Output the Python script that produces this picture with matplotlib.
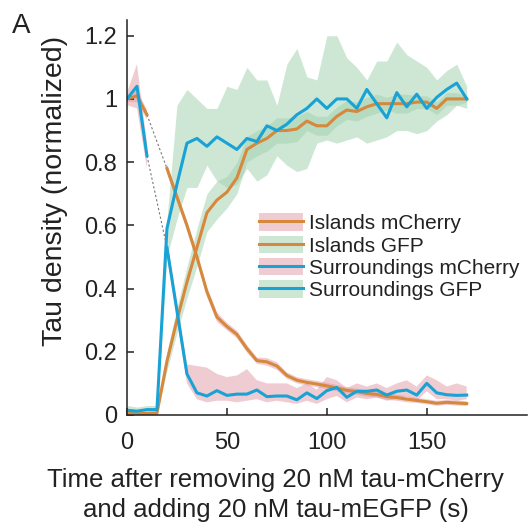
import numpy as np
import matplotlib
matplotlib.use("Agg")
from matplotlib import pyplot as plt
from matplotlib.patches import Patch
from matplotlib.lines import Line2D
from matplotlib.ticker import FormatStrFormatter

nan = np.nan

# time points (s)
time = [0, 5, 10, 15, 20, 25, 30, 35, 40, 45, 50, 55, 60, 65, 70, 75, 80, 85,
        90, 95, 100, 105, 110, 115, 120, 125, 130, 135, 140, 145, 150, 155,
        160, 165, 170]

# islands, mCherry channel (gap at 15 s while solutions are exchanged)
islands_mcherry = [1.00, 1.01, 0.95, nan, 0.78, 0.69, 0.60, 0.50, 0.39, 0.31,
                   0.28, 0.255, 0.21, 0.172, 0.168, 0.155, 0.125, 0.11, 0.103,
                   0.098, 0.092, 0.085, 0.078, 0.074, 0.068, 0.065, 0.058,
                   0.055, 0.050, 0.046, 0.042, 0.037, 0.040, 0.038, 0.036]
islands_mcherry_sd = [0.01, 0.02, 0.015, nan, 0.015, 0.015, 0.015, 0.015,
                      0.015, 0.015, 0.012, 0.012, 0.012, 0.01, 0.012, 0.012,
                      0.01, 0.01, 0.01, 0.01, 0.01, 0.01, 0.01, 0.01, 0.01,
                      0.01, 0.01, 0.01, 0.01, 0.008, 0.008, 0.008, 0.008,
                      0.008, 0.008]

# islands, GFP channel
islands_gfp = [0.005, 0.004, 0.005, 0.006, 0.17, 0.30, 0.42, 0.53, 0.64, 0.68,
               0.705, 0.75, 0.84, 0.86, 0.875, 0.90, 0.90, 0.905, 0.93, 0.915,
               0.915, 0.945, 0.965, 0.96, 0.975, 0.985, 0.985, 0.985, 0.985,
               0.99, 0.99, 0.97, 1.0, 1.0, 1.0]
islands_gfp_sd = [0.005, 0.005, 0.005, 0.005, 0.03, 0.04, 0.05, 0.06, 0.06,
                  0.06, 0.05, 0.05, 0.04, 0.04, 0.04, 0.04, 0.04, 0.04, 0.03,
                  0.03, 0.03, 0.03, 0.03, 0.03, 0.03, 0.03, 0.02, 0.03, 0.03,
                  0.02, 0.02, 0.02, 0.02, 0.02, 0.01]

# surroundings, mCherry channel
surr_mcherry = [1.00, 1.04, 0.82, nan, 0.53, 0.33, 0.13, 0.07, 0.06, 0.077,
                0.062, 0.066, 0.066, 0.079, 0.058, 0.06, 0.06, 0.048, 0.07,
                0.052, 0.077, 0.087, 0.056, 0.075, 0.075, 0.079, 0.063, 0.075,
                0.079, 0.063, 0.10, 0.07, 0.064, 0.062, 0.063]
surr_mcherry_hi = [1.02, 1.11, 0.86, nan, 0.55, 0.36, 0.16, 0.155, 0.15, 0.13,
                   0.12, 0.125, 0.145, 0.11, 0.10, 0.10, 0.10, 0.085, 0.10,
                   0.08, 0.12, 0.11, 0.085, 0.10, 0.09, 0.10, 0.085, 0.10,
                   0.11, 0.09, 0.125, 0.11, 0.09, 0.10, 0.09]
surr_mcherry_lo = [0.98, 0.97, 0.78, nan, 0.50, 0.30, 0.10, 0.05, 0.04, 0.045,
                   0.045, 0.04, 0.045, 0.05, 0.04, 0.045, 0.04, 0.035, 0.045,
                   0.035, 0.05, 0.06, 0.04, 0.055, 0.05, 0.055, 0.045, 0.05,
                   0.06, 0.045, 0.075, 0.05, 0.05, 0.045, 0.05]

# surroundings, GFP channel
surr_gfp = [0.015, 0.012, 0.017, 0.017, 0.59, 0.73, 0.86, 0.875, 0.85, 0.88,
            0.86, 0.84, 0.875, 0.865, 0.915, 0.90, 0.92, 0.95, 0.97, 1.0, 0.97,
            1.0, 1.0, 0.97, 1.03, 0.985, 0.94, 1.02, 0.975, 1.015, 0.97, 1.005,
            1.03, 1.05, 1.0]
surr_gfp_hi = [0.03, 0.025, 0.03, 0.03, 0.62, 0.98, 1.03, 1.0, 0.97, 0.97,
               1.04, 1.03, 1.10, 1.06, 1.06, 0.98, 1.11, 1.16, 1.07, 1.06, 1.20,
               1.20, 1.13, 1.10, 1.06, 1.12, 1.12, 1.18, 1.14, 1.12, 1.10, 1.06,
               1.09, 1.11, 1.04]
surr_gfp_lo = [0.005, 0.005, 0.005, 0.005, 0.50, 0.62, 0.72, 0.72, 0.79, 0.74,
               0.72, 0.73, 0.78, 0.74, 0.76, 0.82, 0.79, 0.77, 0.78, 0.86, 0.87,
               0.86, 0.87, 0.88, 0.86, 0.87, 0.88, 0.90, 0.90, 0.89, 0.90, 0.93,
               0.95, 0.98, 0.97]

labels = ["Islands mCherry", "Islands GFP", "Surroundings mCherry", "Surroundings GFP"]

orange = "#d6883c"
blue = "#18a2d6"
pink = "#e19ba5"
green = "#9fd0ad"

plt.rcParams["font.family"] = ["Liberation Sans", "DejaVu Sans"]

t = np.array(time)
im = np.array(islands_mcherry)
ims = np.array(islands_mcherry_sd)
ig = np.array(islands_gfp)
igs = np.array(islands_gfp_sd)

fig = plt.figure(figsize=(5.28, 5.31), dpi=100)
ax = fig.add_axes([0.2405, 0.2185, 0.757, 0.744])

# shaded spread
ax.fill_between(t, im - ims, im + ims, color=pink, alpha=0.5, lw=0)
ax.fill_between(t, ig - igs, ig + igs, color=green, alpha=0.5, lw=0)
ax.fill_between(t, surr_mcherry_lo, surr_mcherry_hi, color=pink, alpha=0.5, lw=0)
ax.fill_between(t, surr_gfp_lo, surr_gfp_hi, color=green, alpha=0.5, lw=0)

# dotted connectors over the exchange gap
ax.plot([time[2], time[4]], [islands_mcherry[2], islands_mcherry[4]],
        ls=(0, (2, 2)), color="#777777", lw=0.8)
ax.plot([time[2], time[4]], [surr_mcherry[2], surr_mcherry[4]],
        ls=(0, (2, 2)), color="#777777", lw=0.8)

ax.plot(t, islands_mcherry, color=orange, lw=2.2)
ax.plot(t, islands_gfp, color=orange, lw=2.2)
ax.plot(t, surr_mcherry, color=blue, lw=2.2)
ax.plot(t, surr_gfp, color=blue, lw=2.2)

ax.set_xlim(0, 200)
ax.set_ylim(0, 1.25)
ax.set_xticks([0, 50, 100, 150])
ax.set_yticks([0, 0.2, 0.4, 0.6, 0.8, 1, 1.2])
ax.yaxis.set_major_formatter(FormatStrFormatter("%g"))
ax.spines["top"].set_visible(False)
ax.spines["right"].set_visible(False)
for s in ["left", "bottom"]:
    ax.spines[s].set_linewidth(1.1)
    ax.spines[s].set_color("#222222")
ax.tick_params(direction="in", length=5, width=1.1, color="#222222",
               labelsize=17, labelcolor="#222222")
ax.tick_params(axis="x", pad=12)
ax.tick_params(axis="y", pad=7)

ax.set_xlabel("Time after removing 20 nM tau-mCherry\nand adding 20 nM tau-mEGFP (s)",
              fontsize=18.5, color="#222222", linespacing=1.3)
ax.xaxis.set_label_coords(0.372, -0.135)
ax.xaxis.label.set_va("top")
fig.text(55 / 528, 1 - 191 / 531, "Tau density (normalized)", rotation=90,
         ha="center", va="center", fontsize=20.5, color="#222222")
fig.text(12 / 528, 1 - 13 / 531, "A", ha="left", va="top", fontsize=20,
         color="#222222")

handles = [
    (Patch(facecolor=pink, alpha=0.5, lw=0), Line2D([], [], color=orange, lw=2.2)),
    (Patch(facecolor=green, alpha=0.5, lw=0), Line2D([], [], color=orange, lw=2.2)),
    (Patch(facecolor=pink, alpha=0.5, lw=0), Line2D([], [], color=blue, lw=2.2)),
    (Patch(facecolor=green, alpha=0.5, lw=0), Line2D([], [], color=blue, lw=2.2)),
]
leg = ax.legend(handles, labels, loc="upper left", bbox_to_anchor=(0.33, 0.51),
                frameon=False, fontsize=15, handlelength=2.1, handleheight=0.9,
                handletextpad=0.3, labelspacing=0.12, borderpad=0, borderaxespad=0)
for txt in leg.get_texts():
    txt.set_color("#222222")

fig.savefig("out.png", dpi=100)
